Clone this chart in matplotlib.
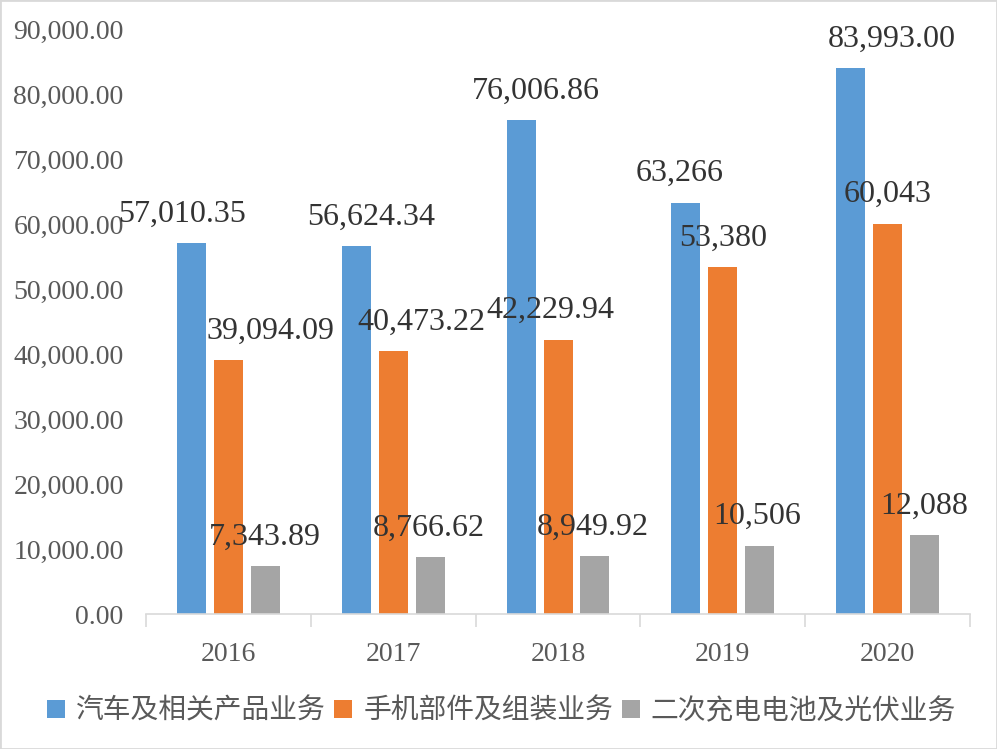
import matplotlib.pyplot as plt
import numpy as np

years = ['2016', '2017', '2018', '2019', '2020']
series_names = ['汽车及相关产品业务', '手机部件及组装业务', '二次充电电池及光伏业务']
auto = [57010.35, 56624.34, 76006.86, 63266, 83993.00]
phone = [39094.09, 40473.22, 42229.94, 53380, 60043]
battery = [7343.89, 8766.62, 8949.92, 10506, 12088]
auto_labels = ['57,010.35', '56,624.34', '76,006.86', '63,266', '83,993.00']
phone_labels = ['39,094.09', '40,473.22', '42,229.94', '53,380', '60,043']
battery_labels = ['7,343.89', '8,766.62', '8,949.92', '10,506', '12,088']
yticks = [0, 10000, 20000, 30000, 40000, 50000, 60000, 70000, 80000, 90000]

colors = ['#5B9BD5', '#ED7D31', '#A5A5A5']
# label nudges in pixels (labels were hand-moved in the original)
label_dx = [[-9, 15, 15, -6, 41],
            [42, 28, -8, 0, 0],
            [0, -1, -2, -3, 0]]

serif = ['Liberation Serif', 'DejaVu Serif']
cjk = ['Noto Sans CJK SC', 'DejaVu Sans']

fig = plt.figure(figsize=(9.97, 7.49), dpi=100)
ax = fig.add_axes([0.1464, 0.1802, 0.973 - 0.1464, 0.9613 - 0.1802])

x = np.arange(len(years))
step = 0.224
width = 0.176
all_vals = [auto, phone, battery]
all_labels = [auto_labels, phone_labels, battery_labels]
for i, (vals, labs) in enumerate(zip(all_vals, all_labels)):
    pos = x + (i - 1) * step
    ax.bar(pos, vals, width, color=colors[i], label=series_names[i])
    for j in range(len(vals)):
        ax.annotate(labs[j], (pos[j], vals[j]),
                    xytext=(label_dx[i][j] * 0.72, 29 * 0.72), textcoords='offset points',
                    ha='center', va='center', fontsize=23, family=serif, color='#333333')

ax.set_xlim(-0.5, len(years) - 0.5)
ax.set_ylim(0, 90000)
ax.set_yticks(yticks)
ax.set_yticklabels(['{:,.2f}'.format(v) for v in yticks], family=serif, fontsize=20, color='#595959')
ax.tick_params(axis='y', length=0, pad=16)

ax.set_xticks(x)
ax.set_xticklabels(years, family=serif, fontsize=20, color='#595959')
ax.set_xticks(np.arange(len(years) + 1) - 0.5, minor=True)
ax.tick_params(axis='x', which='major', length=0, pad=20)
ax.tick_params(axis='x', which='minor', length=9, color='#D9D9D9', width=1.2)

for s in ['top', 'right', 'left']:
    ax.spines[s].set_visible(False)
ax.spines['bottom'].set_color('#D9D9D9')
ax.spines['bottom'].set_linewidth(1.2)

fig.legend(loc='center', bbox_to_anchor=(0.503, 0.051), ncol=3, frameon=False,
           prop={'family': cjk, 'size': 20}, handlelength=0.65,
           handleheight=0.65, handletextpad=0.4, columnspacing=0.3, labelcolor='#595959')

fig.patches.append(plt.Rectangle((0, 0), 1, 1, transform=fig.transFigure, fill=False,
                                 edgecolor='#D9D9D9', linewidth=2))

fig.savefig('out.png', dpi=100)
